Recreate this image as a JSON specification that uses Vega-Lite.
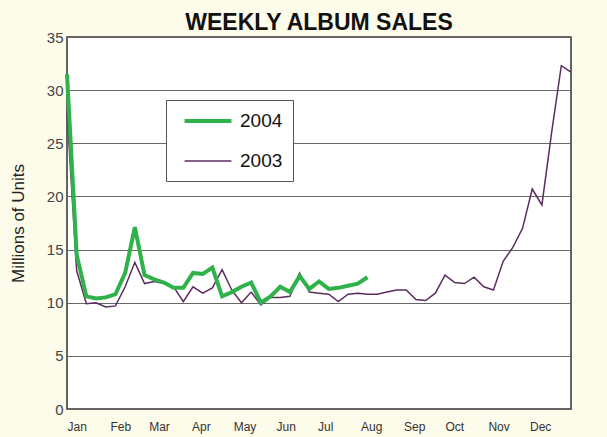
{
  "$schema": "https://vega.github.io/schema/vega-lite/v6.json",
  "width": 504,
  "height": 372,
  "autosize": {"type": "none"},
  "padding": {"left": 67, "top": 37, "right": 36, "bottom": 28},
  "background": "#fdfbea",
  "title": {"text": "WEEKLY ALBUM SALES", "font": "Liberation Sans", "fontSize": 23, "fontWeight": "bold", "color": "#111", "anchor": "middle", "offset": 8, "dy": 13},
  "config": {
    "view": {"fill": "white", "stroke": "#333", "strokeWidth": 1.5},
    "font": "Liberation Sans"
  },
  "data": {"values": [
    {"d":"2003-01-01T00:00:00","year":"2003","v":28},
    {"d":"2003-01-08T00:00:00","year":"2003","v":13},
    {"d":"2003-01-15T00:00:00","year":"2003","v":9.9},
    {"d":"2003-01-22T00:00:00","year":"2003","v":10.0},
    {"d":"2003-01-29T00:00:00","year":"2003","v":9.6},
    {"d":"2003-02-05T00:00:00","year":"2003","v":9.7},
    {"d":"2003-02-12T00:00:00","year":"2003","v":11.5},
    {"d":"2003-02-19T00:00:00","year":"2003","v":13.8},
    {"d":"2003-02-26T00:00:00","year":"2003","v":11.8},
    {"d":"2003-03-05T00:00:00","year":"2003","v":12.0},
    {"d":"2003-03-12T00:00:00","year":"2003","v":11.8},
    {"d":"2003-03-19T00:00:00","year":"2003","v":11.5},
    {"d":"2003-03-26T00:00:00","year":"2003","v":10.1},
    {"d":"2003-04-02T00:00:00","year":"2003","v":11.5},
    {"d":"2003-04-09T00:00:00","year":"2003","v":10.9},
    {"d":"2003-04-16T00:00:00","year":"2003","v":11.4},
    {"d":"2003-04-23T00:00:00","year":"2003","v":13.1},
    {"d":"2003-04-30T00:00:00","year":"2003","v":11.2},
    {"d":"2003-05-07T00:00:00","year":"2003","v":10.0},
    {"d":"2003-05-14T00:00:00","year":"2003","v":11.0},
    {"d":"2003-05-21T00:00:00","year":"2003","v":9.8},
    {"d":"2003-05-28T00:00:00","year":"2003","v":10.5},
    {"d":"2003-06-04T00:00:00","year":"2003","v":10.5},
    {"d":"2003-06-11T00:00:00","year":"2003","v":10.6},
    {"d":"2003-06-18T00:00:00","year":"2003","v":12.8},
    {"d":"2003-06-25T00:00:00","year":"2003","v":11.0},
    {"d":"2003-07-02T00:00:00","year":"2003","v":10.9},
    {"d":"2003-07-09T00:00:00","year":"2003","v":10.8},
    {"d":"2003-07-16T00:00:00","year":"2003","v":10.1},
    {"d":"2003-07-23T00:00:00","year":"2003","v":10.8},
    {"d":"2003-07-30T00:00:00","year":"2003","v":10.9},
    {"d":"2003-08-06T00:00:00","year":"2003","v":10.8},
    {"d":"2003-08-13T00:00:00","year":"2003","v":10.8},
    {"d":"2003-08-20T00:00:00","year":"2003","v":11.0},
    {"d":"2003-08-27T00:00:00","year":"2003","v":11.2},
    {"d":"2003-09-03T00:00:00","year":"2003","v":11.2},
    {"d":"2003-09-10T00:00:00","year":"2003","v":10.3},
    {"d":"2003-09-17T00:00:00","year":"2003","v":10.2},
    {"d":"2003-09-24T00:00:00","year":"2003","v":10.9},
    {"d":"2003-10-01T00:00:00","year":"2003","v":12.6},
    {"d":"2003-10-08T00:00:00","year":"2003","v":11.9},
    {"d":"2003-10-15T00:00:00","year":"2003","v":11.8},
    {"d":"2003-10-22T00:00:00","year":"2003","v":12.4},
    {"d":"2003-10-29T00:00:00","year":"2003","v":11.5},
    {"d":"2003-11-05T00:00:00","year":"2003","v":11.2},
    {"d":"2003-11-12T00:00:00","year":"2003","v":13.9},
    {"d":"2003-11-19T00:00:00","year":"2003","v":15.2},
    {"d":"2003-11-26T00:00:00","year":"2003","v":17.0},
    {"d":"2003-12-03T00:00:00","year":"2003","v":20.7},
    {"d":"2003-12-10T00:00:00","year":"2003","v":19.2},
    {"d":"2003-12-17T00:00:00","year":"2003","v":26.0},
    {"d":"2003-12-24T00:00:00","year":"2003","v":32.3},
    {"d":"2003-12-31T00:00:00","year":"2003","v":31.7},
    {"d":"2003-01-01T00:00:00","year":"2004","v":31.5},
    {"d":"2003-01-08T00:00:00","year":"2004","v":14.5},
    {"d":"2003-01-15T00:00:00","year":"2004","v":10.6},
    {"d":"2003-01-22T00:00:00","year":"2004","v":10.4},
    {"d":"2003-01-29T00:00:00","year":"2004","v":10.5},
    {"d":"2003-02-05T00:00:00","year":"2004","v":10.8},
    {"d":"2003-02-12T00:00:00","year":"2004","v":12.8},
    {"d":"2003-02-19T00:00:00","year":"2004","v":17.1},
    {"d":"2003-02-26T00:00:00","year":"2004","v":12.6},
    {"d":"2003-03-05T00:00:00","year":"2004","v":12.2},
    {"d":"2003-03-12T00:00:00","year":"2004","v":11.9},
    {"d":"2003-03-19T00:00:00","year":"2004","v":11.4},
    {"d":"2003-03-26T00:00:00","year":"2004","v":11.4},
    {"d":"2003-04-02T00:00:00","year":"2004","v":12.8},
    {"d":"2003-04-09T00:00:00","year":"2004","v":12.7},
    {"d":"2003-04-16T00:00:00","year":"2004","v":13.3},
    {"d":"2003-04-23T00:00:00","year":"2004","v":10.6},
    {"d":"2003-04-30T00:00:00","year":"2004","v":11.0},
    {"d":"2003-05-07T00:00:00","year":"2004","v":11.5},
    {"d":"2003-05-14T00:00:00","year":"2004","v":11.9},
    {"d":"2003-05-21T00:00:00","year":"2004","v":10.0},
    {"d":"2003-05-28T00:00:00","year":"2004","v":10.6},
    {"d":"2003-06-04T00:00:00","year":"2004","v":11.5},
    {"d":"2003-06-11T00:00:00","year":"2004","v":11.0},
    {"d":"2003-06-18T00:00:00","year":"2004","v":12.5},
    {"d":"2003-06-25T00:00:00","year":"2004","v":11.3},
    {"d":"2003-07-02T00:00:00","year":"2004","v":12.0},
    {"d":"2003-07-09T00:00:00","year":"2004","v":11.3},
    {"d":"2003-07-16T00:00:00","year":"2004","v":11.4},
    {"d":"2003-07-23T00:00:00","year":"2004","v":11.6},
    {"d":"2003-07-30T00:00:00","year":"2004","v":11.8},
    {"d":"2003-08-06T00:00:00","year":"2004","v":12.4}
  ]},
  "encoding": {
    "x": {
      "field": "d", "type": "temporal",
      "scale": {"domain": [{"year": 2003, "month": 1, "date": 1}, {"year": 2003, "month": 12, "date": 31}]},
      "axis": {"title": null, "format": "%b", "tickCount": {"interval": "month", "step": 1}, "labelAlign": "left", "ticks": false, "domain": false, "grid": false, "labelFontSize": 12, "labelColor": "#333", "labelPadding": 12, "labelFont": "Liberation Sans"}
    },
    "y": {
      "field": "v", "type": "quantitative",
      "scale": {"domain": [0, 35], "nice": false},
      "axis": {"title": "Millions of Units", "titleFontSize": 17, "titleFontWeight": "normal", "titleColor": "#222", "titleFont": "Liberation Sans", "titlePadding": 19, "values": [0, 5, 10, 15, 20, 25, 30, 35], "labelFontSize": 15, "labelColor": "#444", "labelFont": "Liberation Sans", "ticks": false, "domain": false, "gridColor": "#666", "gridWidth": 1, "gridOpacity": 1, "labelPadding": 4}
    },
    "color": {
      "field": "year", "type": "nominal",
      "scale": {"domain": ["2004", "2003"], "range": ["#2fb24a", "#5b2d5e"]},
      "legend": {"title": null, "orient": "none", "legendX": 99, "legendY": 63, "symbolType": "M-2.6,0H2.6", "symbolSize": 324, "labelFontSize": 19, "labelFont": "Liberation Sans", "labelColor": "#111", "rowPadding": 20, "padding": 10, "fillColor": "white", "strokeColor": "#555", "labelOffset": 21, "symbolOffset": 21}
    },
    "strokeWidth": {
      "field": "year", "type": "nominal",
      "scale": {"domain": ["2004", "2003"], "range": [4, 1.5]},
      "legend": {"title": null, "orient": "none", "legendX": 99, "legendY": 63, "symbolType": "M-2.6,0H2.6", "symbolSize": 324, "labelFontSize": 19, "labelFont": "Liberation Sans", "labelColor": "#111", "rowPadding": 20, "padding": 10, "fillColor": "white", "strokeColor": "#555", "labelOffset": 21, "symbolOffset": 21}
    }
  },
  "layer": [
    {"transform": [{"filter": "datum.year == '2003'"}], "mark": {"type": "line"}},
    {"transform": [{"filter": "datum.year == '2004'"}], "mark": {"type": "line"}}
  ]
}
